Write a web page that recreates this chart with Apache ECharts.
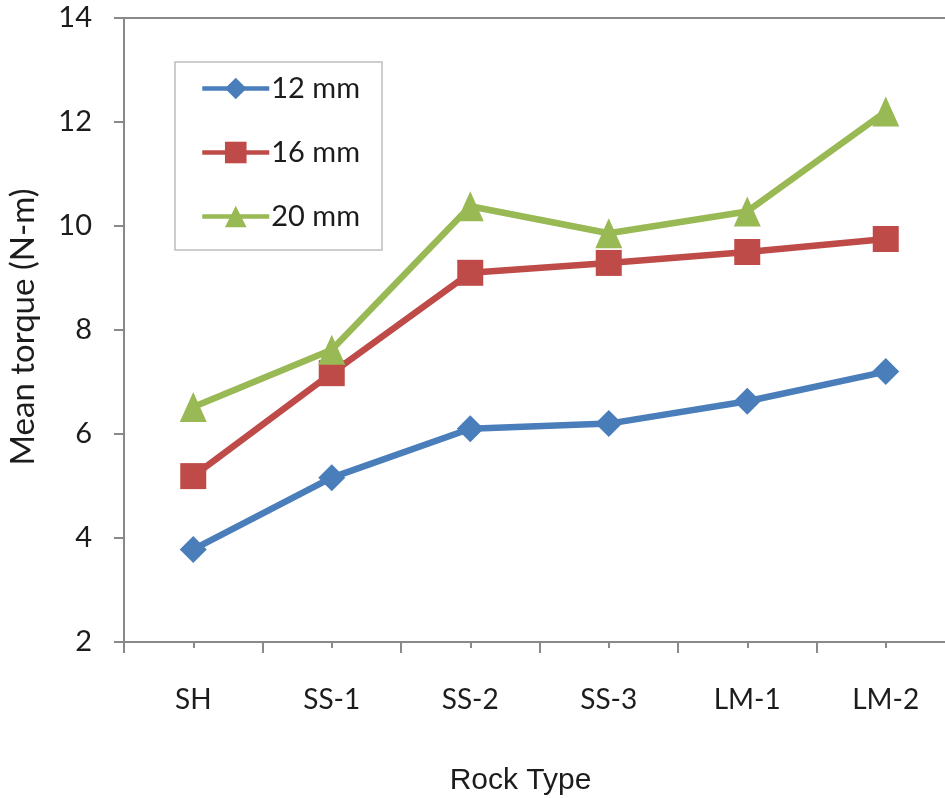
<!DOCTYPE html>
<html>
<head>
<meta charset="utf-8">
<style>
  html, body { margin: 0; padding: 0; background: #fff; }
  #chart { width: 945px; height: 798px; }
</style>
<script src="https://cdn.jsdelivr.net/npm/echarts@6/dist/echarts.min.js"></script>
</head>
<body>
<div id="chart"></div>
<script>
// Mean torque by rock type for three bit diameters
const rockTypes = ['SH', 'SS-1', 'SS-2', 'SS-3', 'LM-1', 'LM-2'];
const torque12mm = [3.78, 5.16, 6.10, 6.20, 6.63, 7.20];
const torque16mm = [5.19, 7.17, 9.10, 9.29, 9.50, 9.75];
const torque20mm = [6.52, 7.62, 10.38, 9.86, 10.28, 12.20];
const yTicks = { min: 2, max: 14, interval: 2 };

const labelFont = 'Lato, "Open Sans", sans-serif';
const titleFont = '"Liberation Sans", Arial, sans-serif';
const axisGrey = '#898989';
const textColor = '#1c1c1c';

const chart = echarts.init(document.getElementById('chart'));

function lineSeries(name, data, color, symbol, size) {
  return {
    name: name,
    type: 'line',
    data: data,
    symbol: symbol,
    symbolSize: size,
    showAllSymbol: true,
    lineStyle: { color: color, width: 6.5 },
    itemStyle: { color: color, borderWidth: 0 },
    emphasis: { disabled: true },
    z: 3
  };
}

chart.setOption({
  animation: false,
  backgroundColor: '#fff',
  grid: {
    left: 124, top: 18, width: 831, bottom: 156,
    containLabel: false,
    outerBoundsMode: 'none'
  },
  legend: {
    orient: 'vertical',
    left: 175,
    top: 62,
    padding: [12, 22, 19, 25],
    borderColor: '#bdbdbd',
    borderWidth: 1.5,
    itemWidth: 67,
    itemHeight: 27,
    itemGap: 35,
    lineStyle: { width: 4.5 },
    textStyle: { fontFamily: labelFont, fontSize: 29, color: textColor, padding: [0, 0, 0, -3] },
    data: ['12 mm', '16 mm', '20 mm']
  },
  xAxis: [
    {
      type: 'category',
      data: rockTypes,
      boundaryGap: true,
      position: 'bottom',
      name: 'Rock Type',
      nameLocation: 'middle',
      nameGap: 124,
      nameTextStyle: { fontFamily: titleFont, fontSize: 30, color: textColor, padding: [0, 38, 0, 0] },
      axisLine: { show: true, lineStyle: { color: axisGrey, width: 2 } },
      axisTick: { show: true, alignWithLabel: false, length: 11, lineStyle: { color: axisGrey, width: 2 } },
      axisLabel: { fontFamily: labelFont, fontSize: 28, color: textColor, margin: 44 },
      splitLine: { show: false }
    },
    {
      // short ticks under each category centre
      type: 'category',
      data: rockTypes,
      boundaryGap: true,
      position: 'bottom',
      axisLine: { show: false },
      axisTick: { show: true, alignWithLabel: true, length: 6, lineStyle: { color: axisGrey, width: 2 } },
      axisLabel: { show: false },
      splitLine: { show: false }
    },
    {
      // top border of the plot area
      type: 'category',
      data: rockTypes,
      position: 'top',
      axisLine: { show: true, lineStyle: { color: axisGrey, width: 2 } },
      axisTick: { show: false },
      axisLabel: { show: false },
      splitLine: { show: false }
    }
  ],
  yAxis: {
    type: 'value',
    min: yTicks.min,
    max: yTicks.max,
    interval: yTicks.interval,
    name: 'Mean torque (N-m)',
    nameLocation: 'middle',
    nameGap: 84,
    nameTextStyle: { fontFamily: labelFont, fontSize: 33, color: textColor, padding: [0, 0, 0, 6] },
    axisLine: { show: true, lineStyle: { color: axisGrey, width: 2 } },
    axisTick: { show: true, inside: false, length: 10, lineStyle: { color: axisGrey, width: 2 } },
    axisLabel: { fontFamily: labelFont, fontSize: 29, color: textColor, margin: 32 },
    splitLine: { show: false }
  },
  series: [
    lineSeries('12 mm', torque12mm, '#4A7EBB', 'diamond', 27),
    lineSeries('16 mm', torque16mm, '#BE4B48', 'rect', 26),
    lineSeries('20 mm', torque20mm, '#98B954', 'triangle', [27, 30])
  ]
});
</script>
</body>
</html>
